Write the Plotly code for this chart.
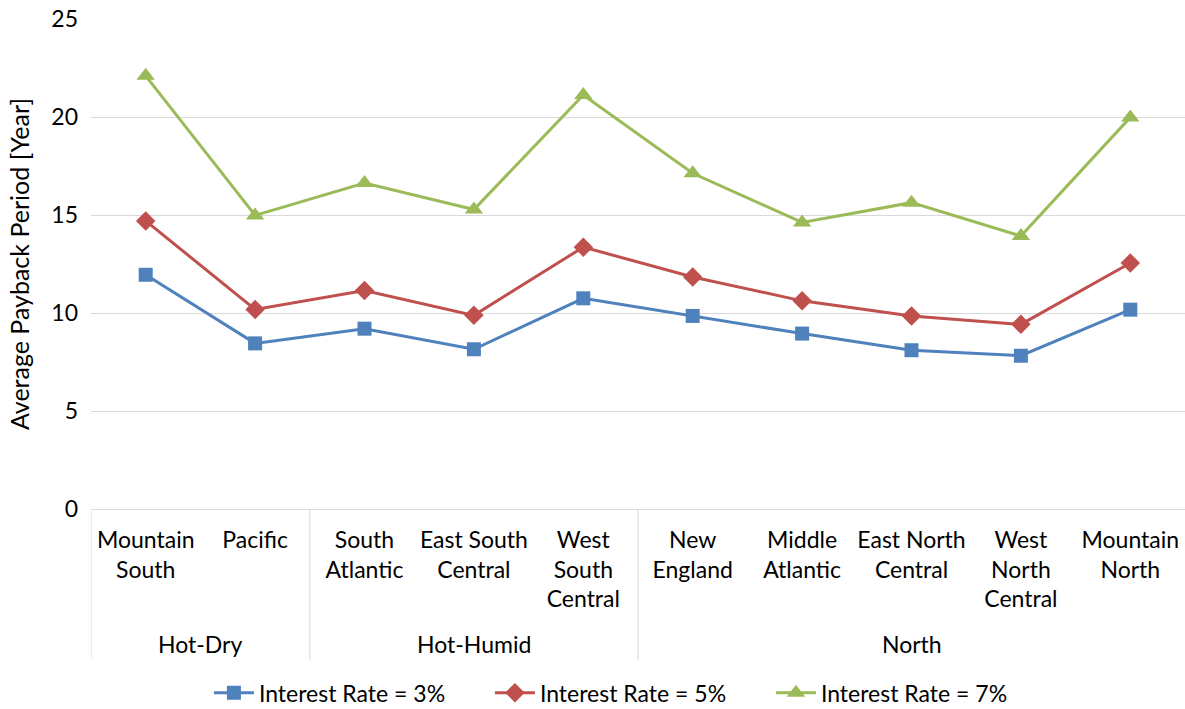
import plotly.graph_objects as go

# Census divisions, grouped by climate zone
regions = [
    "Mountain<br>South", "Pacific",
    "South<br>Atlantic", "East South<br>Central", "West<br>South<br>Central",
    "New<br>England", "Middle<br>Atlantic", "East North<br>Central",
    "West<br>North<br>Central", "Mountain<br>North",
]
zones = ["Hot-Dry", "Hot-Humid", "North"]
zone_sizes = [2, 3, 5]

# Average payback period in years for each interest rate
rate_3 = [11.95, 8.45, 9.20, 8.15, 10.75, 9.85, 8.95, 8.10, 7.82, 10.17]
rate_5 = [14.70, 10.18, 11.15, 9.88, 13.36, 11.84, 10.62, 9.85, 9.42, 12.55]
rate_7 = [22.10, 14.98, 16.63, 15.28, 21.12, 17.13, 14.62, 15.63, 13.93, 19.98]

series = [
    ("Interest Rate = 3%", rate_3, "#4F81BD", "square", 14),
    ("Interest Rate = 5%", rate_5, "#C0504D", "diamond", 15),
    ("Interest Rate = 7%", rate_7, "#9BBB59", "triangle-up", 16),
]

FONT = "Lato"
FS = 23
GRID = "#D9D9D9"
xs = list(range(len(regions)))

fig = go.Figure()
for name, vals, color, symbol, size in series:
    fig.add_trace(go.Scatter(
        x=xs, y=vals, name=name, mode="lines+markers",
        line=dict(color=color, width=3),
        marker=dict(symbol=symbol, size=size, color=color),
    ))

# Climate-zone dividers under the category axis
edges = [-0.5]
for n in zone_sizes[:-1]:
    edges.append(edges[-1] + n)
for e in edges:
    fig.add_shape(type="line", xref="x", yref="paper", x0=e, x1=e,
                  y0=0, y1=-0.308, line=dict(color=GRID, width=1))

start = -0.5
for zone, n in zip(zones, zone_sizes):
    fig.add_annotation(x=start + n / 2, y=-0.276, xref="x", yref="paper",
                       text=zone, showarrow=False, yanchor="middle",
                       font=dict(family=FONT, size=FS, color="#000"))
    start += n

fig.update_layout(
    width=1185, height=709,
    margin=dict(l=91, r=0, t=19, b=200),
    plot_bgcolor="white", paper_bgcolor="white",
    font=dict(family=FONT, size=FS, color="#000"),
    showlegend=True,
    legend=dict(orientation="h", xref="container", yref="container",
                x=0.532, y=0.023, xanchor="center", yanchor="middle",
                font=dict(family=FONT, size=FS, color="#000"),
                itemwidth=40, entrywidth=226, traceorder="normal"),
    xaxis=dict(
        range=[-0.5, 9.5], tickvals=xs, ticktext=regions,
        showgrid=False, zeroline=False, showline=True, linecolor=GRID,
        linewidth=1, ticks="", ticklabelstandoff=10,
        tickfont=dict(family=FONT, size=FS, color="#000"),
    ),
    yaxis=dict(
        range=[0, 25], dtick=5, showgrid=True, gridcolor=GRID, gridwidth=1,
        zeroline=False, showline=False, ticks="", ticklabelstandoff=12,
        title=dict(text="Average Payback Period [Year]", standoff=14,
                   font=dict(family=FONT, size=25, color="#000")),
        tickfont=dict(family=FONT, size=FS, color="#000"),
    ),
)

fig.write_html("out.html")
